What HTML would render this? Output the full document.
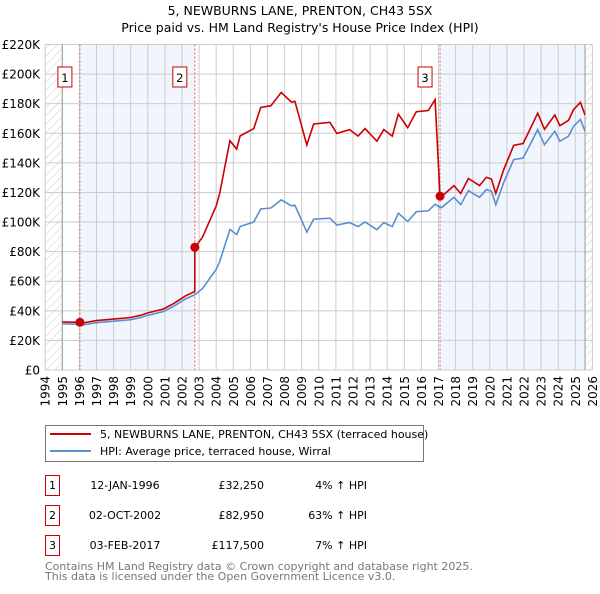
<!DOCTYPE html>
<html><head><meta charset="utf-8"><style>
body{margin:0;background:#fff;width:600px;height:590px;overflow:hidden;font-family:"DejaVu Sans","Liberation Sans",sans-serif}
svg text{font-family:"DejaVu Sans","Liberation Sans",sans-serif}
</style></head><body>
<svg id="chart" width="600" height="590" xmlns="http://www.w3.org/2000/svg">
<defs><pattern id="hatch" width="6" height="6" patternUnits="userSpaceOnUse" patternTransform="rotate(45)"><line x1="0" y1="0" x2="0" y2="6" stroke="#ccc" stroke-width="1"/></pattern></defs>
<text x="300" y="15" text-anchor="middle" font-size="12.5">5, NEWBURNS LANE, PRENTON, CH43 5SX</text>
<text x="300" y="32" text-anchor="middle" font-size="12.5">Price paid vs. HM Land Registry's House Price Index (HPI)</text>
<g id="plot"></g>
<g>
<rect x="45.5" y="425.5" width="378" height="36" fill="#fff" stroke="#777"/>
<line x1="50" y1="434" x2="91" y2="434" stroke="#cc0000" stroke-width="2"/>
<text x="100" y="438" font-size="11">5, NEWBURNS LANE, PRENTON, CH43 5SX (terraced house)</text>
<line x1="50" y1="451" x2="91" y2="451" stroke="#5b8fd0" stroke-width="2"/>
<text x="100" y="455" font-size="11">HPI: Average price, terraced house, Wirral</text>
</g>
<g id="table"></g>
<text x="45" y="570" font-size="11" fill="#777">Contains HM Land Registry data © Crown copyright and database right 2025.</text>
<text x="45" y="580" font-size="11" fill="#777">This data is licensed under the Open Government Licence v3.0.</text>
</svg>
<script>
const hpiYears=[1995,1995.5,1996,1996.2,1997,1998,1999,1999.6,2000,2000.9,2001.5,2002.2,2002.78,2003.2,2004,2004.2,2004.8,2005.2,2005.4,2006.2,2006.6,2007.2,2007.8,2008.4,2008.6,2009.0,2009.3,2009.7,2010.65,2011.05,2011.8,2012.3,2012.7,2013.4,2013.8,2014.3,2014.65,2015.2,2015.7,2016.4,2016.8,2017.09,2017.2,2017.9,2018.3,2018.75,2019.4,2019.8,2020.1,2020.35,2020.8,2021.4,2021.95,2022.35,2022.8,2023.2,2023.8,2024.1,2024.6,2024.9,2025.3,2025.57];
const hpiValues=[31.2,31,31,30.5,32,33,34,35.5,37,39.5,43,48,51,55,68,73,95,91.5,97,100,108.8,109.5,115,111,111.3,101,93.2,101.9,102.6,98,99.6,96.9,100,94.8,99.6,96.9,106,100.4,107,107.5,112,110,109.9,116.7,111.7,121.2,116.7,121.9,120.8,111.7,126.4,142.2,143.3,152.3,162.5,152.3,161.4,154.6,158,164.8,169.3,161.4];
const saleLabels=["1","2","3"];
const saleYears=[1996.03,2002.75,2017.09];
const salePrices=[32250,82950,117500];
const saleDates=["12-JAN-1996","02-OCT-2002","03-FEB-2017"];
const salePct=["4% \u2191 HPI","63% \u2191 HPI","7% \u2191 HPI"];
const yTicks=[0,20,40,60,80,100,120,140,160,180,200,220];
const xTicks=[1994,1995,1996,1997,1998,1999,2000,2001,2002,2003,2004,2005,2006,2007,2008,2009,2010,2011,2012,2013,2014,2015,2016,2017,2018,2019,2020,2021,2022,2023,2024,2025,2026];
const NS="http://www.w3.org/2000/svg";
const L=45.2,R=592.4,T=44.5,B=370;
const xs=y=>L+(y-1994)/32*(R-L);
const ys=v=>B-v/220*(B-T);
function mk(tag,attrs,parent){const e=document.createElementNS(NS,tag);for(const k in attrs)e.setAttribute(k,attrs[k]);parent.appendChild(e);return e;}
const plot=document.getElementById('plot');
const dataEnd=hpiYears[hpiYears.length-1];
let r=mk('rect',{x:L,y:T,width:xs(1995)-L,height:B-T,fill:'url(#hatch)'},plot);


r=mk('rect',{x:xs(dataEnd),y:T,width:R-xs(dataEnd),height:B-T,fill:'url(#hatch)'},plot);


r=mk('rect',{x:xs(saleYears[0]),y:T,width:xs(saleYears[1])-xs(saleYears[0]),height:B-T,fill:'#eef3fc',opacity:0.8},plot);


r=mk('rect',{x:xs(saleYears[2]),y:T,width:xs(dataEnd)-xs(saleYears[2]),height:B-T,fill:'#eef3fc',opacity:0.8},plot);


yTicks.forEach(v=>{
  const g=mk('line',{x1:L,x2:R,y1:ys(v),y2:ys(v),stroke:'#ccc','stroke-width':1},plot);
  
  
  const t=mk('text',{x:40,y:ys(v)+4.5,'text-anchor':'end','font-size':12},plot);
  t.textContent=v===0?'£0':'£'+v+'K';
  
  
});
xTicks.forEach(y=>{
  const g=mk('line',{x1:xs(y),x2:xs(y),y1:T,y2:B,stroke:'#ccc','stroke-width':1},plot);
  
  
  const tx=xs(y)+4.5,ty=376;
  const t=mk('text',{x:tx,y:ty,'text-anchor':'end','font-size':12,transform:'rotate(-90 '+tx+' '+ty+')'},plot);
  t.textContent=y;
  
  
});
let a=mk('line',{x1:xs(1995),x2:xs(1995),y1:T,y2:B,stroke:'#999'},plot);


a=mk('line',{x1:xs(dataEnd),x2:xs(dataEnd),y1:T,y2:B,stroke:'#999'},plot);


saleYears.forEach((sy,i)=>{
  const l=mk('line',{x1:xs(sy),x2:xs(sy),y1:T,y2:B,stroke:'#e06060','stroke-dasharray':'2,2','stroke-width':1},plot);
  
  
  const bx=mk('rect',{x:xs(sy)-22,y:67,width:14,height:20,fill:'#fff',stroke:'#c00'},plot);
  
  
  const t=mk('text',{x:xs(sy)-15,y:82,'text-anchor':'middle','font-size':11.5},plot);
  t.textContent=saleLabels[i];
  
  
});
function interp(y){for(let i=1;i<hpiYears.length;i++){if(y<=hpiYears[i]){const f=(y-hpiYears[i-1])/(hpiYears[i]-hpiYears[i-1]);return hpiValues[i-1]+f*(hpiValues[i]-hpiValues[i-1]);}}return hpiValues[hpiValues.length-1];}
const ratios=saleYears.map((sy,i)=>salePrices[i]/1000/interp(sy));
let hp='';hpiYears.forEach((y,i)=>{hp+=(i?'L':'M')+xs(y).toFixed(1)+','+ys(hpiValues[i]).toFixed(1);});
const hl=mk('path',{d:hp,fill:'none',stroke:'#5b8fd0','stroke-width':1.6},plot);


const pts=[];
hpiYears.forEach((y,i)=>{
  for(let k=0;k<saleYears.length;k++){if(pts.length&&pts[pts.length-1].y<saleYears[k]&&y>saleYears[k]){pts.push({y:saleYears[k],v:interp(saleYears[k])*(k?ratios[k-1]:ratios[0])});pts.push({y:saleYears[k],v:salePrices[k]/1000});}}
  let k=0;while(k+1<saleYears.length&&y>=saleYears[k+1])k++;
  pts.push({y:y,v:hpiValues[i]*ratios[k]});
});
let rp='';pts.forEach((p,i)=>{rp+=(i?'L':'M')+xs(p.y).toFixed(1)+','+ys(p.v).toFixed(1);});
const rl=mk('path',{d:rp,fill:'none',stroke:'#cc0000','stroke-width':1.6},plot);


saleYears.forEach((sy,i)=>{
  const c=mk('circle',{cx:xs(sy),cy:ys(salePrices[i]/1000),r:4.5,fill:'#cc0000'},plot);
  
  
});
const tb=document.getElementById('table');
saleYears.forEach((sy,i)=>{
  const yy=475+i*30;
  const b=mk('rect',{x:45.5,y:yy+0.5,width:14,height:20,fill:'#fff',stroke:'#c00'},tb);
  
  
  const t1=mk('text',{x:52.5,y:yy+14,'text-anchor':'middle','font-size':11},tb);t1.textContent=saleLabels[i];
  
  
  const t2=mk('text',{x:125,y:yy+14,'text-anchor':'middle','font-size':11},tb);t2.textContent=saleDates[i];
  
  
  const t3=mk('text',{x:264,y:yy+14,'text-anchor':'end','font-size':11},tb);t3.textContent='£'+salePrices[i].toLocaleString('en-GB');
  
  
  const t4=mk('text',{x:367,y:yy+14,'text-anchor':'end','font-size':11},tb);t4.textContent=salePct[i];
  
  
});
</script>
</body></html>
